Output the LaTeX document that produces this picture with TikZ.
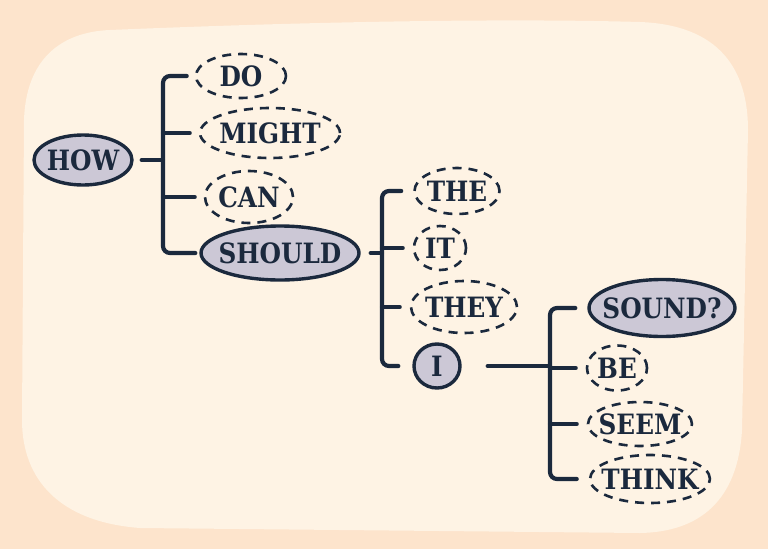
\documentclass[tikz,border=0pt]{standalone}
\usepackage{fontspec}
\setmainfont{DejaVu Serif}[FakeStretch=0.88]
\usetikzlibrary{shapes.geometric}
\definecolor{cnavy}{RGB}{27,41,61}
\definecolor{cpeach}{RGB}{253,228,204}
\definecolor{ccream}{RGB}{254,243,228}
\definecolor{clav}{RGB}{204,200,214}
\tikzset{wordmap/.style={x=1pt,y=-1pt,font=\bfseries\fontsize{28}{30}\selectfont,text=cnavy},
  word/.style={ellipse,draw=cnavy,line width=2.6pt,dash pattern=on 9pt off 7pt,inner xsep=-10pt,inner ysep=0pt},
  pick/.style={ellipse,draw=cnavy,fill=clav,line width=3.4pt,inner xsep=-10pt,inner ysep=0pt},
  brace/.style={cnavy,line width=4.2pt,line cap=round,line join=round,rounded corners=7pt}}
\begin{document}
\begin{tikzpicture}[wordmap]
    \fill[cpeach] (0,0) rectangle (768,549);
    \fill[ccream] (110,30) .. controls (300,22) and (500,18) .. (640,22) .. controls (720,25) and (748,70) .. (748,130)
      -- (742,430) .. controls (738,500) and (700,532) .. (640,533) -- (140,528)
      .. controls (60,522) and (22,480) .. (22,420) -- (24,120) .. controls (26,60) and (60,32) .. (110,30) -- cycle;
    \node[pick,minimum width=98pt,minimum height=50pt] (how) at (83,160) {HOW};
    \node[word,minimum width=90pt,minimum height=44pt] (do) at (241,76) {DO};
    \node[word,minimum width=140pt,minimum height=50pt] (might) at (270,133) {MIGHT};
    \node[word,minimum width=88pt,minimum height=52pt] (can) at (249,197) {CAN};
    \node[pick,minimum width=158pt,minimum height=54pt] (should) at (280,253) {SHOULD};
    \node[word,minimum width=85pt,minimum height=46pt] (the) at (457,191) {THE};
    \node[word,minimum width=52pt,minimum height=44pt] (it) at (440,248) {IT};
    \node[word,minimum width=106pt,minimum height=52pt] (they) at (464,307) {THEY};
    \node[pick,minimum width=46pt,minimum height=44pt] (i) at (437,366) {I};
    \node[pick,minimum width=146pt,minimum height=57pt] (sound) at (662,308) {SOUND?};
    \node[word,minimum width=60pt,minimum height=45pt] (be) at (617,368) {BE};
    \node[word,minimum width=104pt,minimum height=44pt] (seem) at (640,424) {SEEM};
    \node[word,minimum width=120pt,minimum height=48pt] (think) at (650,479) {THINK};
    \coordinate (b1) at (163,158);
    \coordinate (b2) at (382,258);
    \coordinate (b3) at (550,368);
    \draw[brace] ([xshift=-8pt]do.west) -| (b1) |- ([xshift=-4pt]should.west);
    \draw[brace] ([xshift=8pt]how.east) -- (b1 |- how);
    \foreach \w in {might,can} \draw[brace] (b1 |- \w) -- ([xshift=-9pt]\w.west);
    \draw[brace] ([xshift=-12pt]the.west) -| (b2) |- ([xshift=-14pt]i.west);
    \draw[brace] ([xshift=10pt]should.east) -- (b2 |- should);
    \foreach \w in {it,they} \draw[brace] (b2 |- \w) -- ([xshift=-10pt]\w.west);
    \draw[brace] ([xshift=-12pt]sound.west) -| (b3) |- ([xshift=-12pt]think.west);
    \draw[brace] ([xshift=26pt]i.east) -- (b3 |- i);
    \foreach \w in {be,seem} \draw[brace] (b3 |- \w) -- ([xshift=-10pt]\w.west);
\end{tikzpicture}
\end{document}
